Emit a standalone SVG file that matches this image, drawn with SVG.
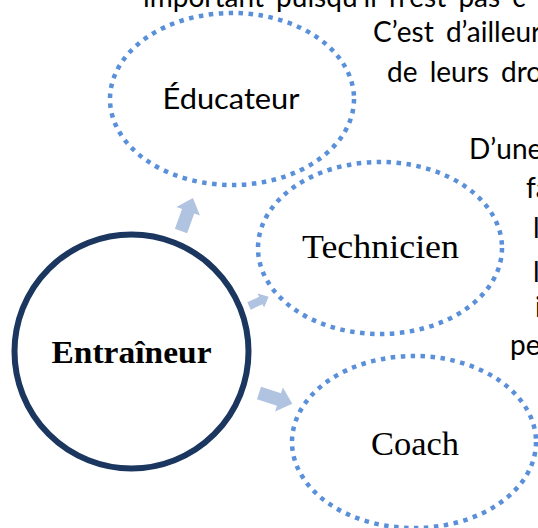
<svg xmlns="http://www.w3.org/2000/svg" width="538" height="528" viewBox="0 0 538 528">
  <style>
    .body { font-family: Lato, "Liberation Sans", sans-serif; font-size: 28px; word-spacing: 5px; fill: #000; }
    .role { fill: none; stroke: #5A8FDA; stroke-width: 4.5; stroke-dasharray: 4.5 5.5; }
    .arrow { fill: #B0C3E0; }
    .label-serif { font-family: "Liberation Serif", serif; font-size: 34px; fill: #000; text-anchor: middle; }
    .label-sans { font-family: Lato, "Liberation Sans", sans-serif; font-size: 28px; fill: #000; text-anchor: middle; }
  </style>
  <defs>
    <path id="block-arrow" d="M0,-6.5 L21,-6.5 L21,-12.5 L35,0 L21,12.5 L21,6.5 L0,6.5 Z"/>
  </defs>

  <rect width="538" height="528" fill="#fff"/>

  <!-- running text beside the diagram -->
  <g id="body-text">
    <text class="body" x="143" y="7">important puisqu’il n’est pas c</text>
    <text class="body" x="373" y="42">C’est d’ailleurs</text>
    <text class="body" x="387" y="82">de leurs droits</text>
    <text class="body" x="469" y="159">D’une</text>
    <text class="body" x="526" y="198">fa</text>
    <text class="body" x="533" y="238">l</text>
    <text class="body" x="533" y="282">l</text>
    <text class="body" x="535" y="317">i</text>
    <text class="body" x="510" y="355">pe</text>
  </g>

  <!-- connectors -->
  <g id="connectors">
    <use href="#block-arrow" class="arrow" transform="translate(181,231) rotate(-70)"/>
    <use href="#block-arrow" class="arrow" transform="translate(249,306) rotate(-25) scale(0.62)"/>
    <use href="#block-arrow" class="arrow" transform="translate(259,393) rotate(18)"/>
  </g>

  <g id="node-educateur">
    <ellipse class="role" cx="232" cy="99" rx="122" ry="86"/>
    <text class="label-sans" x="231" y="109" textLength="137" lengthAdjust="spacingAndGlyphs">Éducateur</text>
  </g>

  <g id="node-technicien">
    <ellipse class="role" cx="380" cy="248" rx="122" ry="86"/>
    <text class="label-serif" x="380.5" y="258" textLength="157" lengthAdjust="spacingAndGlyphs">Technicien</text>
  </g>

  <g id="node-coach">
    <ellipse class="role" cx="414" cy="442" rx="122" ry="86"/>
    <text class="label-serif" x="415" y="455" textLength="88" lengthAdjust="spacingAndGlyphs">Coach</text>
  </g>

  <g id="node-entraineur">
    <circle cx="131.5" cy="351.5" r="117" fill="#fff" stroke="#1B365F" stroke-width="6"/>
    <text x="131.5" y="363" font-family="'Liberation Serif', serif" font-weight="bold" font-size="32" text-anchor="middle" textLength="160" lengthAdjust="spacingAndGlyphs">Entraîneur</text>
  </g>
</svg>
